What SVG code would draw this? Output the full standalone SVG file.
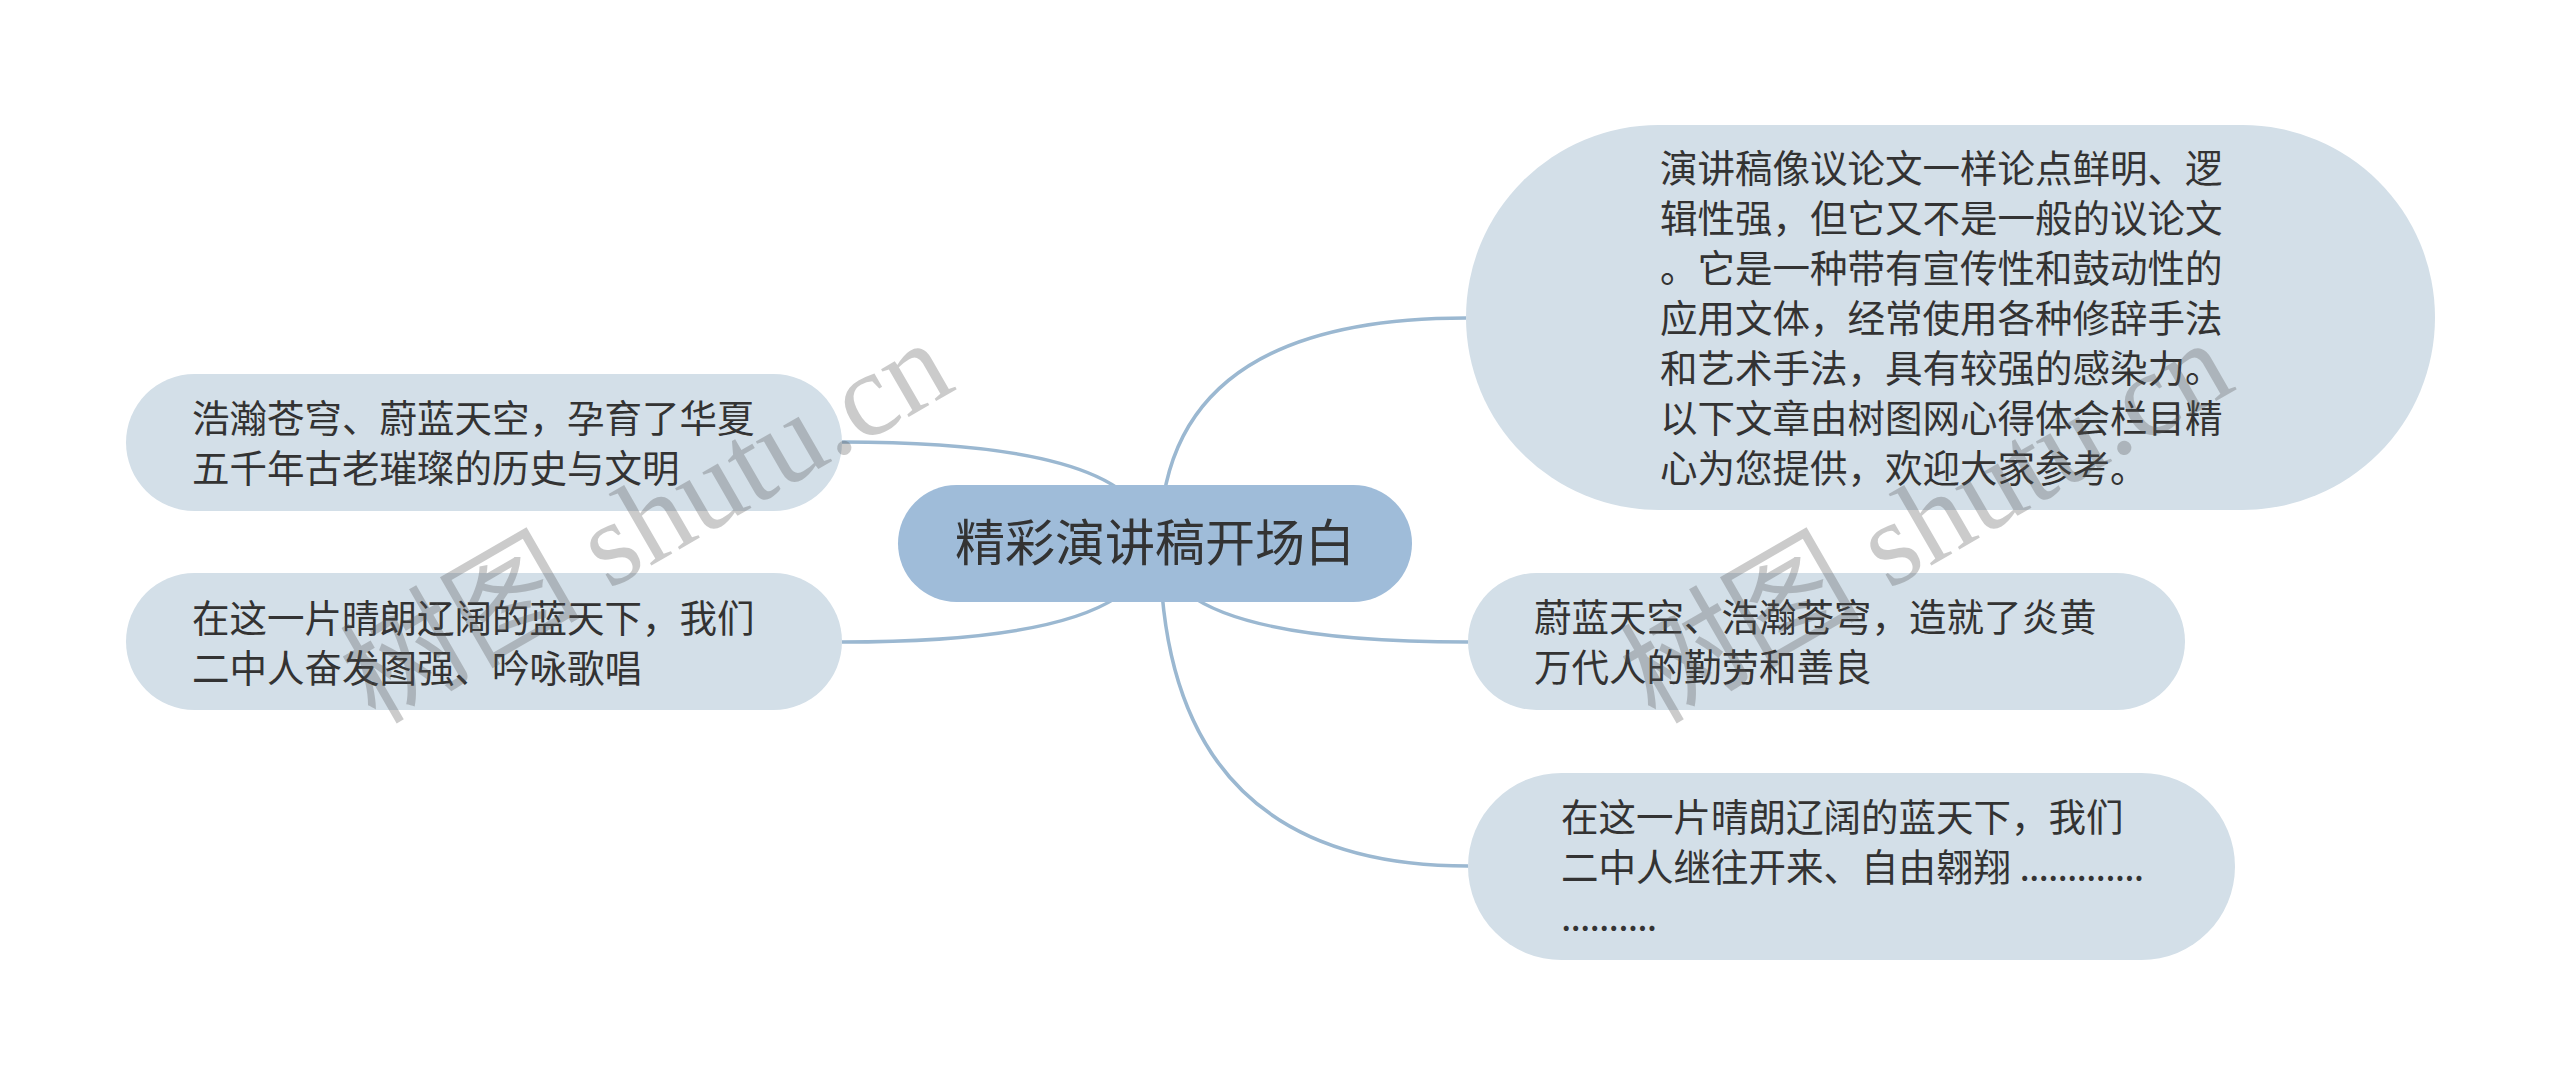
<svg xmlns="http://www.w3.org/2000/svg" width="2560" height="1085" viewBox="0 0 2560 1085">
<style>
.node{fill:#d3dfe8}
.root{fill:#9fbcd9}
.t{font-family:"Noto Sans CJK SC","Liberation Sans",sans-serif;font-size:37.5px;fill:#333333}
.rt{font-family:"Noto Sans CJK SC","Liberation Sans",sans-serif;font-size:50px;fill:#333333}
.edge{fill:none;stroke:#9bb8d1;stroke-width:3.5}
.wm{font-family:"Liberation Serif","Noto Sans CJK SC",serif;font-size:120px;fill:#555555;opacity:0.3}
</style>
<rect width="2560" height="1085" fill="#ffffff"/>
<g id="connectors">
<path class="edge" d="M1150 543 Q1150 442 842 442"/>
<path class="edge" d="M1150 543 Q1150 642 842 642"/>
<path class="edge" d="M1160 543 Q1160 318 1466 318"/>
<path class="edge" d="M1160 543 Q1160 642 1468 642"/>
<path class="edge" d="M1160 543 Q1160 866 1468 866"/>
</g>
<g id="root">
<rect class="root" x="898" y="485" width="514" height="117" rx="58.5"/>
<text class="rt" x="1155" y="561" text-anchor="middle">精彩演讲稿开场白</text>
</g>
<g id="left1">
<rect class="node" x="126" y="374" width="716" height="137" rx="68.5"/>
<text class="t" x="192" y="432">浩瀚苍穹、蔚蓝天空，孕育了华夏</text>
<text class="t" x="192" y="482">五千年古老璀璨的历史与文明</text>
</g>
<g id="left2">
<rect class="node" x="126" y="573" width="716" height="137" rx="68.5"/>
<text class="t" x="192" y="632">在这一片晴朗辽阔的蓝天下，我们</text>
<text class="t" x="192" y="682">二中人奋发图强、吟咏歌唱</text>
</g>
<g id="right1">
<rect class="node" x="1466" y="125" width="969" height="385" rx="192.5"/>
<text class="t" x="1660" y="182">演讲稿像议论文一样论点鲜明、逻</text>
<text class="t" x="1660" y="232">辑性强，但它又不是一般的议论文</text>
<text class="t" x="1660" y="282">。它是一种带有宣传性和鼓动性的</text>
<text class="t" x="1660" y="332">应用文体，经常使用各种修辞手法</text>
<text class="t" x="1660" y="382">和艺术手法，具有较强的感染力。</text>
<text class="t" x="1660" y="432">以下文章由树图网心得体会栏目精</text>
<text class="t" x="1660" y="482">心为您提供，欢迎大家参考。</text>
</g>
<g id="right2">
<rect class="node" x="1468" y="573" width="717" height="137" rx="68.5"/>
<text class="t" x="1534" y="631">蔚蓝天空、浩瀚苍穹，造就了炎黄</text>
<text class="t" x="1534" y="681">万代人的勤劳和善良</text>
</g>
<g id="right3">
<rect class="node" x="1468" y="773" width="767" height="187" rx="93.5"/>
<text class="t" x="1561" y="831">在这一片晴朗辽阔的蓝天下，我们</text>
<text class="t" x="1561" y="881">二中人继往开来、自由翱翔 <tspan letter-spacing="-0.9">.............</tspan></text>
<text class="t" x="1561" y="931" letter-spacing="-0.9">..........</text>
</g>
<g id="watermarks">
<text class="wm" transform="translate(375 725) rotate(-30)">树图 shutu.cn</text>
<text class="wm" transform="translate(1655 725) rotate(-30)">树图 shutu.cn</text>
</g>
</svg>
